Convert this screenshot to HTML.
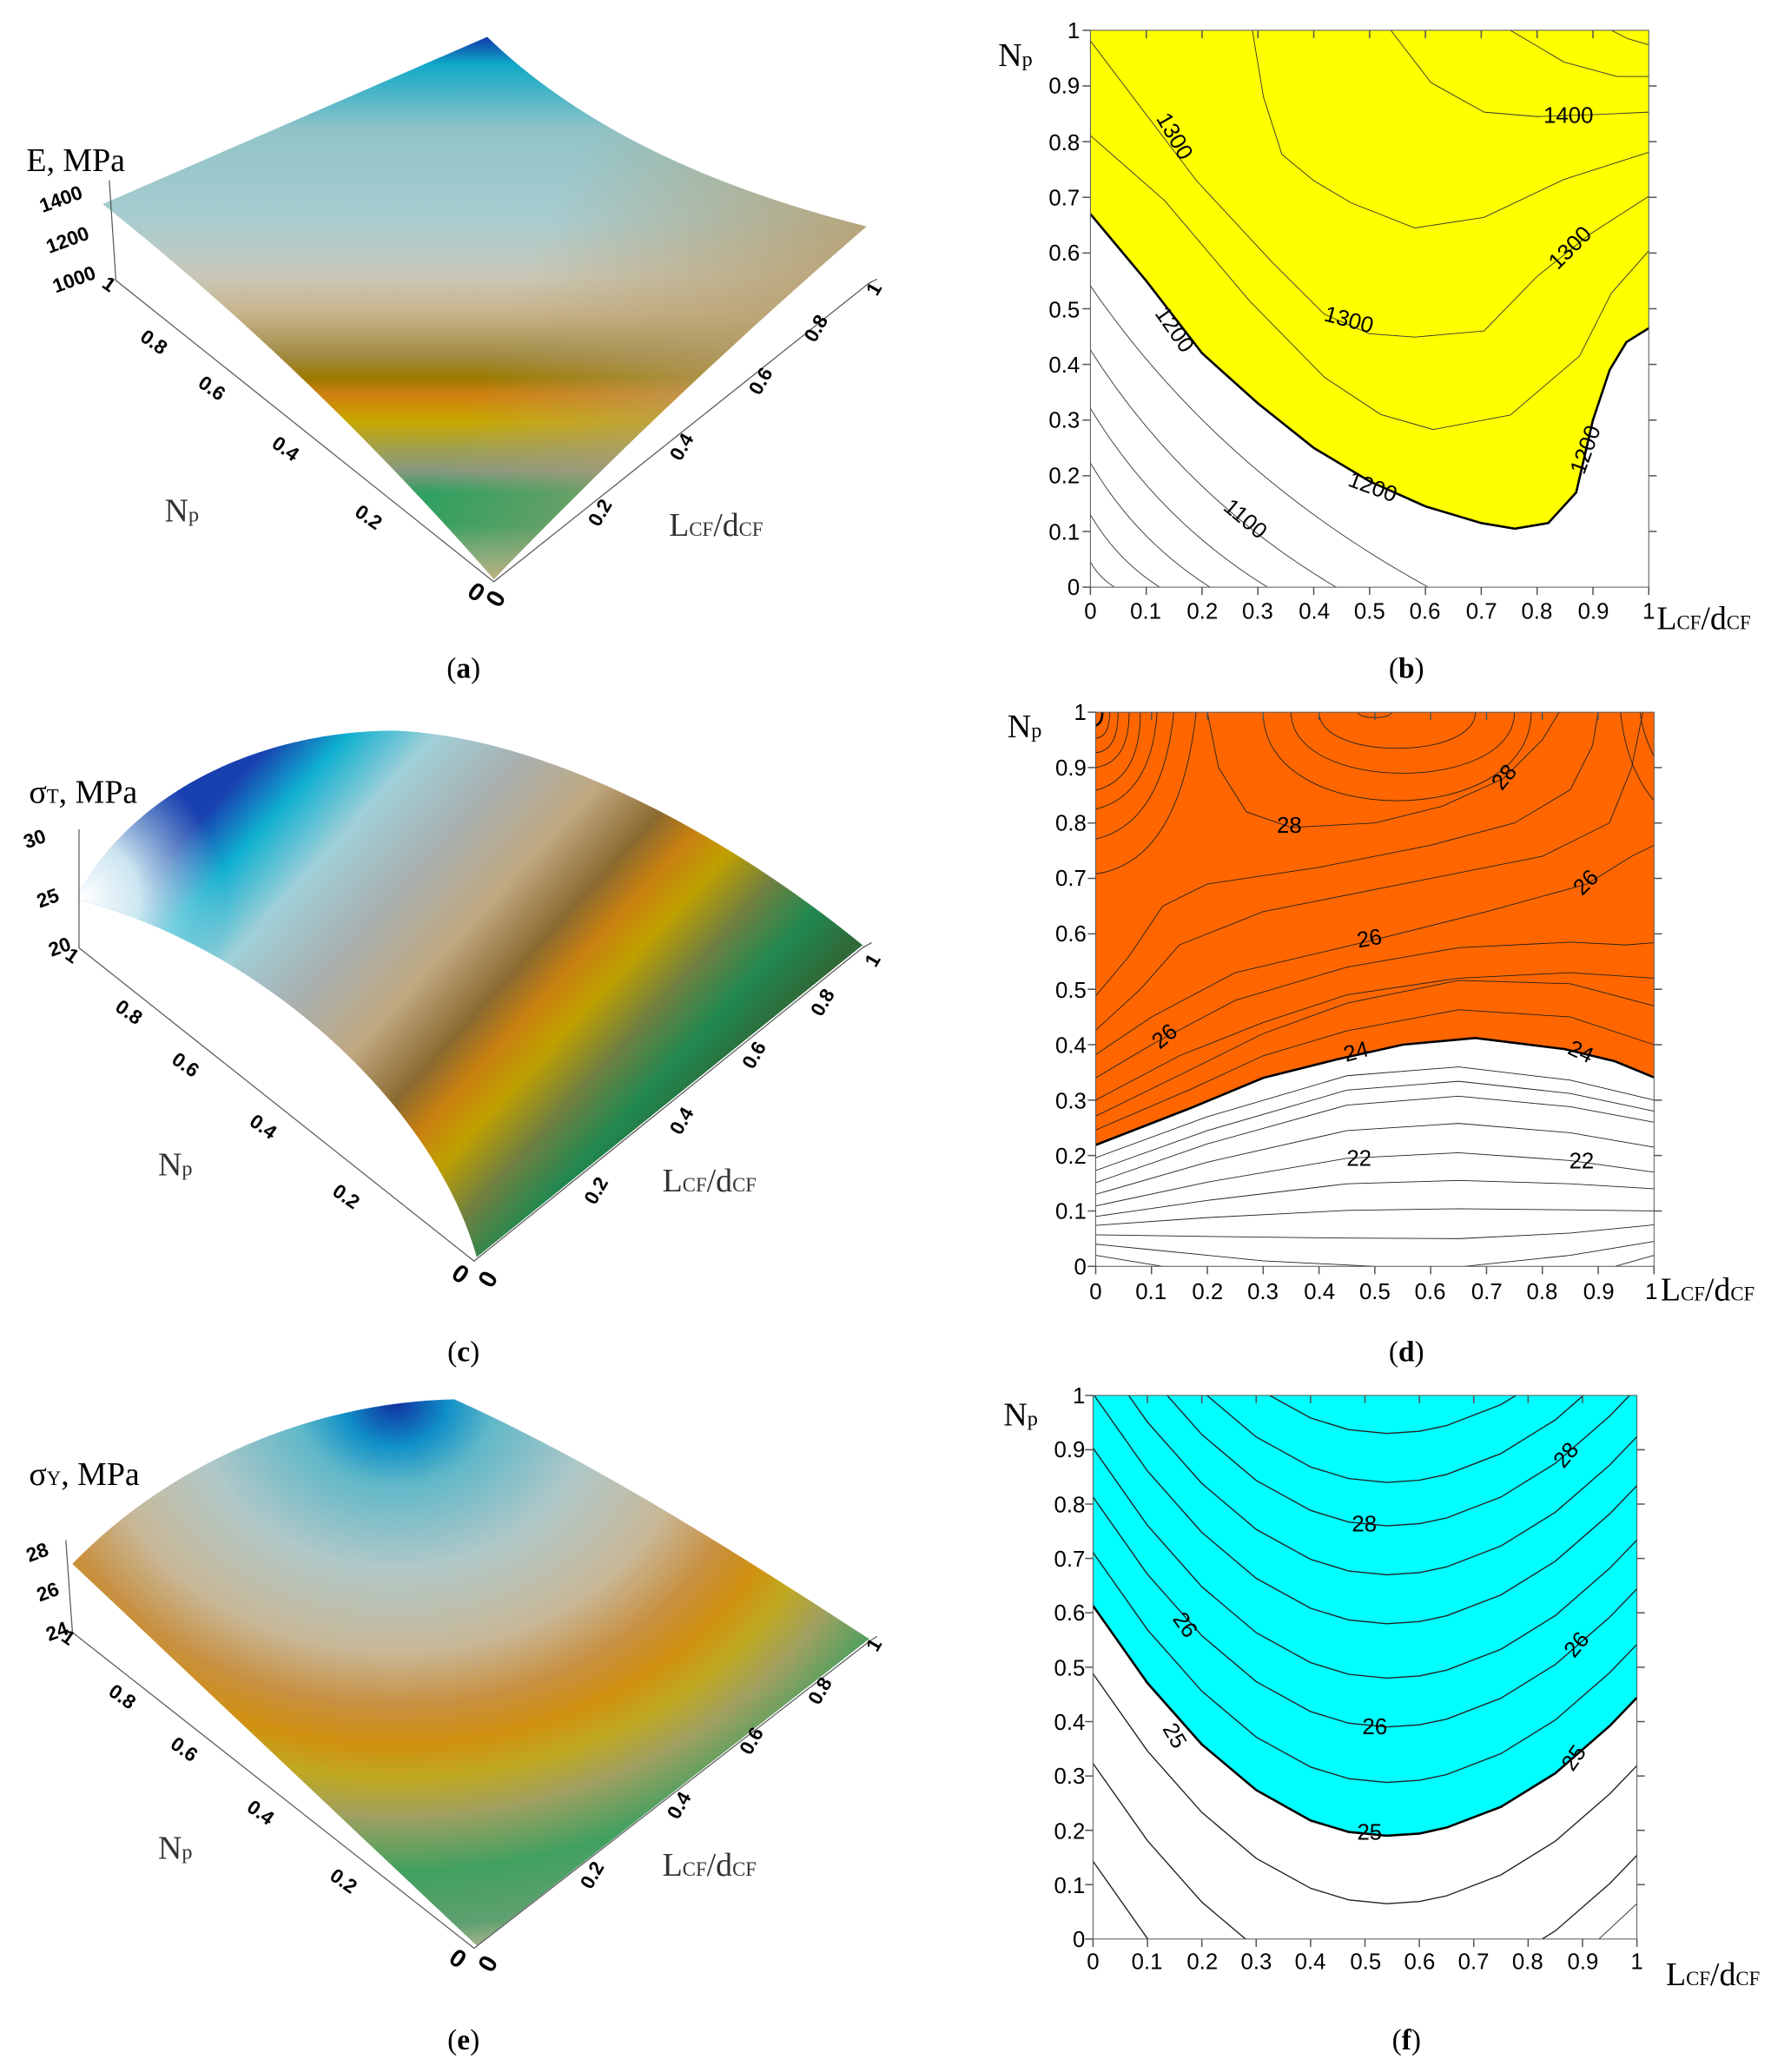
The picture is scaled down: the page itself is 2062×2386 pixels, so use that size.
<!DOCTYPE html>
<html><head><meta charset="utf-8"><style>html,body{margin:0;padding:0;background:#fff}svg{display:block}</style></head><body>
<svg xmlns="http://www.w3.org/2000/svg" xmlns:xlink="http://www.w3.org/1999/xlink" width="2062" height="2386" viewBox="0 0 1360 1574" preserveAspectRatio="none">
<defs>
<linearGradient id="ga" gradientUnits="userSpaceOnUse" x1="0" y1="28" x2="0" y2="440">
<stop offset="0" stop-color="#1038a8"/><stop offset="0.05" stop-color="#10a8c8"/><stop offset="0.17" stop-color="#90c4c8"/><stop offset="0.34" stop-color="#a8ccd0"/><stop offset="0.44" stop-color="#c8c8b8"/><stop offset="0.51" stop-color="#c8b48c"/><stop offset="0.59" stop-color="#a08a40"/><stop offset="0.63" stop-color="#9c7a00"/><stop offset="0.66" stop-color="#d08010"/><stop offset="0.71" stop-color="#c8a800"/><stop offset="0.76" stop-color="#a0a050"/><stop offset="0.8" stop-color="#889880"/><stop offset="0.84" stop-color="#30a060"/><stop offset="0.9" stop-color="#30a060"/><stop offset="0.96" stop-color="#80b080"/><stop offset="1" stop-color="#c0b880"/></linearGradient>
<linearGradient id="ga2" gradientUnits="userSpaceOnUse" x1="440" y1="110" x2="650" y2="200"><stop offset="0" stop-color="#b8a070" stop-opacity="0"/><stop offset="1" stop-color="#b8a070" stop-opacity="0.9"/></linearGradient>
<linearGradient id="gc" gradientUnits="userSpaceOnUse" x1="200" y1="570" x2="560" y2="900">
<stop offset="0" stop-color="#1840b0"/><stop offset="0.08" stop-color="#10b0d0"/><stop offset="0.18" stop-color="#a0d0d8"/><stop offset="0.3" stop-color="#a8b0b0"/><stop offset="0.42" stop-color="#c0a880"/><stop offset="0.52" stop-color="#8a6a30"/><stop offset="0.58" stop-color="#c88010"/><stop offset="0.64" stop-color="#c0a000"/><stop offset="0.72" stop-color="#708040"/><stop offset="0.8" stop-color="#208850"/><stop offset="0.88" stop-color="#306838"/><stop offset="1" stop-color="#50a070"/></linearGradient>
<radialGradient id="gc2" gradientUnits="userSpaceOnUse" cx="62" cy="683" r="110"><stop offset="0" stop-color="#ffffff"/><stop offset="0.4" stop-color="#e0f8f8" stop-opacity="0.9"/><stop offset="1" stop-color="#c0e0e0" stop-opacity="0"/></radialGradient>
<radialGradient id="ge" gradientUnits="userSpaceOnUse" cx="300" cy="1065" r="420" gradientTransform="translate(300,1065) scale(1.2,1) translate(-300,-1065)">
<stop offset="0" stop-color="#1030a0"/><stop offset="0.08" stop-color="#1090c8"/><stop offset="0.15" stop-color="#60b8c8"/><stop offset="0.3" stop-color="#b0c8c8"/><stop offset="0.45" stop-color="#c8b898"/><stop offset="0.55" stop-color="#c89040"/><stop offset="0.62" stop-color="#d09010"/><stop offset="0.68" stop-color="#c0a820"/><stop offset="0.75" stop-color="#a0a060"/><stop offset="0.85" stop-color="#40a060"/><stop offset="0.95" stop-color="#60a070"/><stop offset="1" stop-color="#b0b890"/></radialGradient>
<clipPath id="cu"><rect x="0" y="0" width="1" height="1"/></clipPath>
<path id="par" d="M0,.423 L.1,.281 .2,.168 .3,.0835 .4,.0284 .47,.007 .54,0 .6,.004 .65,.0145 .75,.053 .85,.115 .95,.202 1,.254"/>
</defs>
<g font-family="Liberation Serif, serif" fill="#000">

<!-- (a) -->
<path d="M78,155 L370,28 Q470,125 658,172 Q510,300 375,440 Q235,280 78,155Z" fill="url(#ga)"/>
<path d="M78,155 L370,28 Q470,125 658,172 Q510,300 375,440 Q235,280 78,155Z" fill="url(#ga2)"/>
<g stroke="#555" stroke-width="0.8" fill="none"><path d="M83,137 L88,213 L375,442 L660,215 L666,212"/></g>
<g font-family="Liberation Sans, sans-serif" font-weight="bold" font-size="15" text-anchor="middle">
<text transform="translate(80,220) rotate(35)">1</text><text transform="translate(114,264) rotate(35)">0.8</text><text transform="translate(158,299) rotate(35)">0.6</text><text transform="translate(214,345) rotate(35)">0.4</text><text transform="translate(277,397) rotate(35)">0.2</text><text transform="translate(358,455) rotate(35)" font-size="19">0</text>
<text transform="translate(382,458) rotate(-60)" font-size="19">0</text><text transform="translate(460,392) rotate(-60)">0.2</text><text transform="translate(522,342) rotate(-60)">0.4</text><text transform="translate(582,292) rotate(-60)">0.6</text><text transform="translate(624,252) rotate(-60)">0.8</text><text transform="translate(668,222) rotate(-60)">1</text>
<text transform="translate(48,156) rotate(-20)">1400</text><text transform="translate(53,187) rotate(-20)">1200</text><text transform="translate(58,217) rotate(-20)">1000</text>
</g>
<text x="20" y="130" font-size="25">E, MPa</text>
<text x="125" y="396" font-size="25" fill="#333">N<tspan font-size="16">p</tspan></text>
<text x="508" y="407" font-size="25" fill="#333">L<tspan font-size="15">CF</tspan>/d<tspan font-size="15">CF</tspan></text>
<text x="352" y="515" font-size="22" text-anchor="middle">(<tspan font-weight="bold">a</tspan>)</text>

<!-- (c) -->
<path d="M58,683 C100,600 200,555 300,555 C420,560 560,640 655,718 L362,955 C330,840 200,720 58,683Z" fill="url(#gc)"/>
<path d="M58,683 C100,600 200,555 300,555 C420,560 560,640 655,718 L362,955 C330,840 200,720 58,683Z" fill="url(#gc2)"/>
<g stroke="#555" stroke-width="0.8" fill="none"><path d="M60,630 L60,720 L360,958 L655,720 L662,716"/></g>
<g font-family="Liberation Sans, sans-serif" font-weight="bold" font-size="15" text-anchor="middle">
<text transform="translate(52,730) rotate(35)">1</text><text transform="translate(95,773) rotate(35)">0.8</text><text transform="translate(138,813) rotate(35)">0.6</text><text transform="translate(197,860) rotate(35)">0.4</text><text transform="translate(260,913) rotate(35)">0.2</text><text transform="translate(346,973) rotate(35)" font-size="19">0</text>
<text transform="translate(376,975) rotate(-60)" font-size="19">0</text><text transform="translate(457,907) rotate(-60)">0.2</text><text transform="translate(522,854) rotate(-60)">0.4</text><text transform="translate(577,804) rotate(-60)">0.6</text><text transform="translate(629,764) rotate(-60)">0.8</text><text transform="translate(667,732) rotate(-60)">1</text>
<text transform="translate(28,642) rotate(-20)">30</text><text transform="translate(38,687) rotate(-20)">25</text><text transform="translate(47,724) rotate(-20)">20</text>
</g>
<text x="22" y="610" font-size="25">σ<tspan font-size="15">T</tspan>, MPa</text>
<text x="120" y="893" font-size="25" fill="#333">N<tspan font-size="16">p</tspan></text>
<text x="503" y="905" font-size="25" fill="#333">L<tspan font-size="15">CF</tspan>/d<tspan font-size="15">CF</tspan></text>
<text x="352" y="1034" font-size="22" text-anchor="middle">(<tspan font-weight="bold">c</tspan>)</text>

<!-- (e) -->
<path d="M55,1188 C130,1110 240,1065 345,1063 C450,1110 560,1180 660,1245 L362,1478 Z" fill="url(#ge)"/>
<g stroke="#555" stroke-width="0.8" fill="none"><path d="M50,1170 L55,1240 L360,1480 L660,1247 L666,1243"/></g>
<g font-family="Liberation Sans, sans-serif" font-weight="bold" font-size="15" text-anchor="middle">
<text transform="translate(49,1248) rotate(35)">1</text><text transform="translate(90,1293) rotate(35)">0.8</text><text transform="translate(137,1333) rotate(35)">0.6</text><text transform="translate(195,1381) rotate(35)">0.4</text><text transform="translate(258,1433) rotate(35)">0.2</text><text transform="translate(344,1493) rotate(35)" font-size="19">0</text>
<text transform="translate(376,1495) rotate(-60)" font-size="19">0</text><text transform="translate(454,1427) rotate(-60)">0.2</text><text transform="translate(520,1374) rotate(-60)">0.4</text><text transform="translate(575,1325) rotate(-60)">0.6</text><text transform="translate(627,1287) rotate(-60)">0.8</text><text transform="translate(668,1252) rotate(-60)">1</text>
<text transform="translate(30,1184) rotate(-20)">28</text><text transform="translate(38,1214) rotate(-20)">26</text><text transform="translate(45,1244) rotate(-20)">24</text>
</g>
<text x="22" y="1128" font-size="25">σ<tspan font-size="15">Y</tspan>, MPa</text>
<text x="120" y="1412" font-size="25" fill="#333">N<tspan font-size="16">p</tspan></text>
<text x="503" y="1425" font-size="25" fill="#333">L<tspan font-size="15">CF</tspan>/d<tspan font-size="15">CF</tspan></text>
<text x="352" y="1557" font-size="22" text-anchor="middle">(<tspan font-weight="bold">e</tspan>)</text>

<!-- (b) -->
<g transform="translate(828,446) scale(424,-423)">
<path d="M0,.67 L.1,.55 .2,.42 .3,.33 .4,.25 .5,.19 .6,.145 .7,.115 .76,.105 .82,.115 .87,.17 .9,.3 .93,.39 .96,.44 1,.465 L1,1 0,1Z" fill="#ffff00"/>
<g fill="none" stroke="#333" stroke-width="0.9" vector-effect="non-scaling-stroke" clip-path="url(#cu)">
<path vector-effect="non-scaling-stroke" d="M0,.981 L.114,.83 .19,.73 .324,.585 .419,.49 .5,.455 .581,.449 .705,.46 .8,.558 .895,.634 1,.702"/>
<path vector-effect="non-scaling-stroke" d="M0,.811 L.133,.694 .286,.513 .419,.377 .52,.31 .614,.283 .752,.309 .876,.415 .933,.528 1,.604"/>
<path vector-effect="non-scaling-stroke" d="M.29,1 L.31,.88 .343,.777 .4,.73 .467,.69 .581,.645 .705,.664 .848,.732 1,.781"/>
<path vector-effect="non-scaling-stroke" d="M.538,1 L.61,.906 .705,.853 .8,.845 .914,.849 1,.853"/>
<path vector-effect="non-scaling-stroke" d="M.752,1 L.848,.943 .943,.917 1,.917"/>
<path vector-effect="non-scaling-stroke" d="M.933,1 L.962,.985 1,.974"/>
<path vector-effect="non-scaling-stroke" d="M0,.045 Q.016,.017 .043,0"/>
<path vector-effect="non-scaling-stroke" d="M0,.13 Q.047,.049 .124,0"/>
<path vector-effect="non-scaling-stroke" d="M0,.223 Q.081,.085 .214,0"/>
<path vector-effect="non-scaling-stroke" d="M0,.321 Q.12,.122 .317,0"/>
<path vector-effect="non-scaling-stroke" d="M0,.426 Q.167,.162 .44,0"/>
<path vector-effect="non-scaling-stroke" d="M0,.541 Q.23,.206 .605,0"/>
<path vector-effect="non-scaling-stroke" stroke="#000" stroke-width="2.6" d="M0,.67 L.1,.55 .2,.42 .3,.33 .4,.25 .5,.19 .6,.145 .7,.115 .76,.105 .82,.115 .87,.17 .9,.3 .93,.39 .96,.44 1,.465"/>
</g>
<rect x="0" y="0" width="1" height="1" fill="none" stroke="#555" stroke-width="1" vector-effect="non-scaling-stroke"/>
</g>
<g font-family="Liberation Sans, sans-serif" font-size="17" text-anchor="middle" dominant-baseline="middle">
<text transform="translate(891,104) rotate(60)">1300</text><text x="1191" y="89">1400</text><text transform="translate(1193,189) rotate(-45)">1300</text><text transform="translate(1024,244) rotate(15)">1300</text><text transform="translate(891,251) rotate(55)">1200</text><text transform="translate(1042,371) rotate(20)">1200</text><text transform="translate(1205,342) rotate(-70)">1200</text><text transform="translate(945,395) rotate(40)">1100</text>
</g>
<g stroke="#555" stroke-width="1"><path d="M822,446H828M822,403.7H828M822,361.4H828M822,319.1H828M822,276.8H828M822,234.5H828M822,192.2H828M822,149.9H828M822,107.6H828M822,65.3H828M822,23H828M828,446V452M870.4,446V452M912.8,446V452M955.2,446V452M997.6,446V452M1040,446V452M1082.4,446V452M1124.8,446V452M1167.2,446V452M1209.6,446V452M1252,446V452M870.4,23V29M912.8,23V29M955.2,23V29M997.6,23V29M1040,23V29M1082.4,23V29M1124.8,23V29M1167.2,23V29M1209.6,23V29M1252,65.3H1258M1252,107.6H1258M1252,149.9H1258M1252,192.2H1258M1252,234.5H1258M1252,276.8H1258M1252,319.1H1258M1252,361.4H1258M1252,403.7H1258"/></g>
<g font-family="Liberation Sans, sans-serif" font-size="17" text-anchor="end">
<text x="820" y="452">0</text><text x="820" y="410">0.1</text><text x="820" y="367">0.2</text><text x="820" y="325">0.3</text><text x="820" y="283">0.4</text><text x="820" y="241">0.5</text><text x="820" y="198">0.6</text><text x="820" y="156">0.7</text><text x="820" y="114">0.8</text><text x="820" y="71">0.9</text><text x="820" y="29">1</text>
</g>
<g font-family="Liberation Sans, sans-serif" font-size="17" text-anchor="middle">
<text x="828" y="470">0</text><text x="870" y="470">0.1</text><text x="913" y="470">0.2</text><text x="955" y="470">0.3</text><text x="998" y="470">0.4</text><text x="1040" y="470">0.5</text><text x="1082" y="470">0.6</text><text x="1125" y="470">0.7</text><text x="1167" y="470">0.8</text><text x="1210" y="470">0.9</text><text x="1252" y="470">1</text>
</g>
<text x="758" y="50" font-size="25">N<tspan font-size="16">p</tspan></text>
<text x="1258" y="478" font-size="25">L<tspan font-size="15">CF</tspan>/d<tspan font-size="15">CF</tspan></text>
<text x="1068" y="515" font-size="22" text-anchor="middle">(<tspan font-weight="bold">b</tspan>)</text>

<!-- (d) -->
<g transform="translate(832,962) scale(424,-421)">
<path d="M0,.219 L.171,.286 .3,.34 .43,.373 .55,.40 .68,.412 .84,.392 .93,.37 1,.341 L1,1 0,1Z" fill="#ff6600"/>
<g fill="none" stroke="#222" stroke-width="0.9" clip-path="url(#cu)">
<path vector-effect="non-scaling-stroke" d="M0,.196 L.2,.27 .45,.344 .65,.36 .85,.336 1,.30"/>
<path vector-effect="non-scaling-stroke" d="M0,.173 L.2,.245 .45,.318 .65,.334 .85,.312 1,.28"/>
<path vector-effect="non-scaling-stroke" d="M0,.151 L.2,.221 .45,.291 .65,.307 .85,.288 1,.26"/>
<path vector-effect="non-scaling-stroke" d="M0,.13 L.2,.188 .45,.245 .65,.258 .85,.241 1,.215"/>
<path vector-effect="non-scaling-stroke" d="M0,.109 L.2,.152 .45,.195 .65,.205 .85,.191 1,.17"/>
<path vector-effect="non-scaling-stroke" d="M0,.09 L.2,.119 .45,.149 .65,.155 .85,.149 1,.14"/>
<path vector-effect="non-scaling-stroke" d="M0,.074 L.2,.088 .45,.101 .65,.104 .85,.102 1,.10"/>
<path vector-effect="non-scaling-stroke" d="M0,.057 L.2,.054 .45,.051 .65,.05 .85,.06 1,.075"/>
<path vector-effect="non-scaling-stroke" d="M0,.04 L.1,.03 .3,.01 .5,0 M.66,0 L.85,.02 1,.045"/>
<path vector-effect="non-scaling-stroke" d="M0,.02 L.12,0 M.93,0 L1,.02"/>
<path vector-effect="non-scaling-stroke" d="M0,.246 L.171,.32 .3,.38 .45,.425 .65,.463 .85,.45 1,.40"/>
<path vector-effect="non-scaling-stroke" d="M0,.271 L.17,.355 .3,.42 .45,.475 .65,.516 .85,.51 1,.47"/>
<path vector-effect="non-scaling-stroke" d="M0,.30 L.15,.38 .3,.44 .45,.49 .65,.52 .85,.53 1,.52"/>
<path vector-effect="non-scaling-stroke" d="M0,.34 L.1,.40 .25,.48 .45,.54 .65,.575 .85,.585 .95,.58 1,.584"/>
<path vector-effect="non-scaling-stroke" d="M0,.382 L.1,.45 .25,.53 .49,.587 .7,.64 .88,.69 .96,.74 1,.76"/>
<path vector-effect="non-scaling-stroke" d="M0,.426 L.08,.50 .15,.58 .3,.64 .55,.69 .8,.74 .92,.80 .96,.9 .98,1"/>
<path vector-effect="non-scaling-stroke" d="M0,.488 L.06,.56 .12,.65 .2,.69 .4,.72 .6,.76 .75,.80 .85,.86 .89,.94 .9,1"/>
<path vector-effect="non-scaling-stroke" d="M.2,1 L.22,.9 .27,.82 .35,.792 .5,.80 .62,.83 .73,.88 .8,.95 .83,1"/>
<path vector-effect="non-scaling-stroke" d="M.47,1 C.47,.987 .53,.987 .53,1"/>
<path vector-effect="non-scaling-stroke" d="M.4,1 C.4,.913 .68,.913 .68,1"/>
<path vector-effect="non-scaling-stroke" d="M.35,1 C.35,.853 .75,.853 .75,1"/>
<path vector-effect="non-scaling-stroke" d="M.3,1 C.3,.787 .78,.787 .78,1"/>
<path vector-effect="non-scaling-stroke" d="M0,.708 Q.15,.73 .18,1"/>
<path vector-effect="non-scaling-stroke" d="M0,.771 Q.12,.8 .14,1"/>
<path vector-effect="non-scaling-stroke" d="M0,.825 Q.1,.85 .11,1"/>
<path vector-effect="non-scaling-stroke" d="M0,.859 Q.08,.88 .08,1"/>
<path vector-effect="non-scaling-stroke" d="M0,.90 Q.06,.91 .06,1"/>
<path vector-effect="non-scaling-stroke" d="M0,.927 Q.04,.93 .04,1"/>
<path vector-effect="non-scaling-stroke" d="M0,.953 Q.025,.955 .025,1"/>
<path vector-effect="non-scaling-stroke" d="M1,.84 Q.95,.9 .94,1"/>
<path vector-effect="non-scaling-stroke" d="M1,.92 Q.98,.96 .975,1"/>
<path vector-effect="non-scaling-stroke" stroke="#000" stroke-width="2.6" d="M0,.219 L.171,.286 .3,.34 .43,.373 .55,.40 .68,.412 .84,.392 .93,.37 1,.341"/>
<path vector-effect="non-scaling-stroke" stroke="#000" stroke-width="2.6" d="M0,.976 Q.012,.98 .012,1"/>
</g>
<rect x="0" y="0" width="1" height="1" fill="none" stroke="#555" stroke-width="1" vector-effect="non-scaling-stroke"/>
</g>
<g font-family="Liberation Sans, sans-serif" font-size="17" text-anchor="middle" dominant-baseline="middle">
<text x="979" y="628">28</text><text transform="translate(1143,591) rotate(-50)">28</text><text transform="translate(1205,671) rotate(-45)">26</text><text transform="translate(1040,714) rotate(-10)">26</text><text transform="translate(885,788) rotate(-40)">26</text><text transform="translate(1030,800) rotate(-15)">24</text><text transform="translate(1200,800) rotate(25)">24</text><text x="1032" y="881">22</text><text x="1201" y="883">22</text>
</g>
<g stroke="#555" stroke-width="1"><path d="M826,962H832M826,919.9H832M826,877.8H832M826,835.7H832M826,793.6H832M826,751.5H832M826,709.4H832M826,667.3H832M826,625.2H832M826,583.1H832M826,541H832M832,962V968M874.4,962V968M916.8,962V968M959.2,962V968M1001.6,962V968M1044,962V968M1086.4,962V968M1128.8,962V968M1171.2,962V968M1213.6,962V968M1256,962V968M874.4,541V547M916.8,541V547M959.2,541V547M1001.6,541V547M1044,541V547M1086.4,541V547M1128.8,541V547M1171.2,541V547M1213.6,541V547M1256,583.1H1262M1256,625.2H1262M1256,667.3H1262M1256,709.4H1262M1256,751.5H1262M1256,793.6H1262M1256,835.7H1262M1256,877.8H1262M1256,919.9H1262"/></g>
<g font-family="Liberation Sans, sans-serif" font-size="17" text-anchor="end">
<text x="825" y="968">0</text><text x="825" y="926">0.1</text><text x="825" y="884">0.2</text><text x="825" y="842">0.3</text><text x="825" y="800">0.4</text><text x="825" y="758">0.5</text><text x="825" y="715">0.6</text><text x="825" y="673">0.7</text><text x="825" y="631">0.8</text><text x="825" y="589">0.9</text><text x="825" y="547">1</text>
</g>
<g font-family="Liberation Sans, sans-serif" font-size="17" text-anchor="middle">
<text x="832" y="987">0</text><text x="874" y="987">0.1</text><text x="917" y="987">0.2</text><text x="959" y="987">0.3</text><text x="1002" y="987">0.4</text><text x="1044" y="987">0.5</text><text x="1086" y="987">0.6</text><text x="1129" y="987">0.7</text><text x="1171" y="987">0.8</text><text x="1214" y="987">0.9</text><text x="1254" y="987">1</text>
</g>
<text x="765" y="560" font-size="25">N<tspan font-size="16">p</tspan></text>
<text x="1261" y="988" font-size="25">L<tspan font-size="15">CF</tspan>/d<tspan font-size="15">CF</tspan></text>
<text x="1068" y="1034" font-size="22" text-anchor="middle">(<tspan font-weight="bold">d</tspan>)</text>

<!-- (f) -->
<g transform="translate(830,1473) scale(413,-413)">
<path d="M0,.613 L.1,.471 .2,.358 .3,.274 .4,.218 .47,.197 .54,.19 .6,.194 .65,.205 .75,.243 .85,.305 .95,.392 1,.444 L1,1 0,1Z" fill="#00ffff"/>
<g fill="none" stroke="#222" stroke-width="0.9" clip-path="url(#cu)">
<use xlink:href="#par" href="#par" transform="translate(0,.288)" vector-effect="non-scaling-stroke" stroke-width="0.0022"/>
<use xlink:href="#par" href="#par" transform="translate(0,.39)" stroke-width="0.0022"/>
<use xlink:href="#par" href="#par" transform="translate(0,.48)" stroke-width="0.0022"/>
<use xlink:href="#par" href="#par" transform="translate(0,.58)" stroke-width="0.0022"/>
<use xlink:href="#par" href="#par" transform="translate(0,.67)" stroke-width="0.0022"/>
<use xlink:href="#par" href="#par" transform="translate(0,.76)" stroke-width="0.0022"/>
<use xlink:href="#par" href="#par" transform="translate(0,.84)" stroke-width="0.0022"/>
<use xlink:href="#par" href="#par" transform="translate(0,.93)" stroke-width="0.0022"/>
<use xlink:href="#par" href="#par" transform="translate(0,.065)" stroke-width="0.0022"/>
<use xlink:href="#par" href="#par" transform="translate(0,-.10)" stroke-width="0.0022"/>
<use xlink:href="#par" href="#par" transform="translate(0,-.28)" stroke-width="0.0022"/>
<path vector-effect="non-scaling-stroke" d="M.93,0 L1,.065"/>
<path vector-effect="non-scaling-stroke" stroke="#000" stroke-width="2.6" d="M0,.613 L.1,.471 .2,.358 .3,.274 .4,.218 .47,.197 .54,.19 .6,.194 .65,.205 .75,.243 .85,.305 .95,.392 1,.444"/>
</g>
<rect x="0" y="0" width="1" height="1" fill="none" stroke="#555" stroke-width="1" vector-effect="non-scaling-stroke"/>
</g>
<g font-family="Liberation Sans, sans-serif" font-size="17" text-anchor="middle" dominant-baseline="middle">
<text transform="translate(1190,1106) rotate(-50)">28</text><text x="1036" y="1159">28</text><text transform="translate(899,1235) rotate(55)">26</text><text transform="translate(1198,1250) rotate(-50)">26</text><text x="1044" y="1313">26</text><text transform="translate(891,1319) rotate(60)">25</text><text transform="translate(1196,1336) rotate(-55)">25</text><text x="1040" y="1393">25</text>
</g>
<g stroke="#555" stroke-width="1"><path d="M824,1473H830M824,1431.7H830M824,1390.4H830M824,1349.1H830M824,1307.8H830M824,1266.5H830M824,1225.2H830M824,1183.9H830M824,1142.6H830M824,1101.3H830M824,1060H830M830,1473V1479M871.3,1473V1479M912.6,1473V1479M953.9,1473V1479M995.2,1473V1479M1036.5,1473V1479M1077.8,1473V1479M1119.1,1473V1479M1160.4,1473V1479M1201.7,1473V1479M1243,1473V1479M871.3,1060V1066M912.6,1060V1066M953.9,1060V1066M995.2,1060V1066M1036.5,1060V1066M1077.8,1060V1066M1119.1,1060V1066M1160.4,1060V1066M1201.7,1060V1066M1243,1101.3H1249M1243,1142.6H1249M1243,1183.9H1249M1243,1225.2H1249M1243,1266.5H1249M1243,1307.8H1249M1243,1349.1H1249M1243,1390.4H1249M1243,1431.7H1249"/></g>
<g font-family="Liberation Sans, sans-serif" font-size="17" text-anchor="end">
<text x="824" y="1479">0</text><text x="824" y="1438">0.1</text><text x="824" y="1397">0.2</text><text x="824" y="1355">0.3</text><text x="824" y="1314">0.4</text><text x="824" y="1273">0.5</text><text x="824" y="1231">0.6</text><text x="824" y="1190">0.7</text><text x="824" y="1149">0.8</text><text x="824" y="1107">0.9</text><text x="824" y="1066">1</text>
</g>
<g font-family="Liberation Sans, sans-serif" font-size="17" text-anchor="middle">
<text x="830" y="1496">0</text><text x="871" y="1496">0.1</text><text x="913" y="1496">0.2</text><text x="954" y="1496">0.3</text><text x="995" y="1496">0.4</text><text x="1037" y="1496">0.5</text><text x="1078" y="1496">0.6</text><text x="1119" y="1496">0.7</text><text x="1160" y="1496">0.8</text><text x="1202" y="1496">0.9</text><text x="1243" y="1496">1</text>
</g>
<text x="762" y="1083" font-size="25">N<tspan font-size="16">p</tspan></text>
<text x="1265" y="1508" font-size="25">L<tspan font-size="15">CF</tspan>/d<tspan font-size="15">CF</tspan></text>
<text x="1068" y="1557" font-size="22" text-anchor="middle">(<tspan font-weight="bold">f</tspan>)</text>
</g>
</svg>
</body></html>
